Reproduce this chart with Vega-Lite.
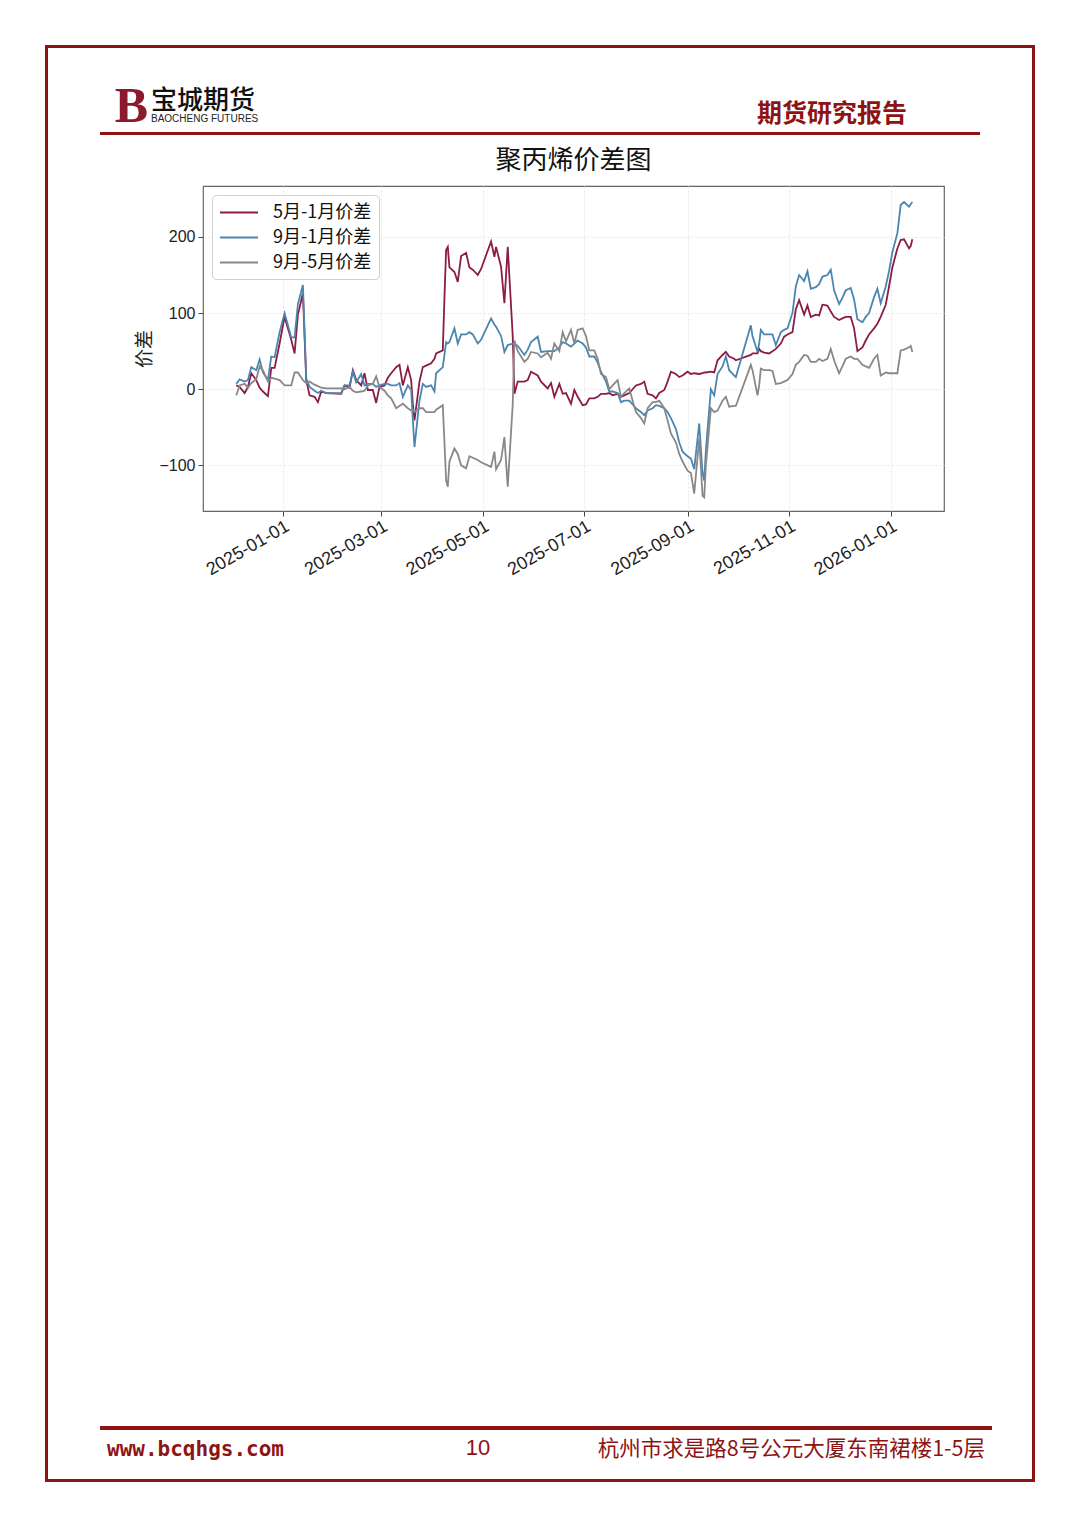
{
  "$schema": "https://vega.github.io/schema/vega-lite/v6.json",
  "background": "white",
  "padding": {"left": 45, "top": 45, "right": 45, "bottom": 45},
  "config": {
    "view": {"stroke": null},
    "font": "Noto Sans CJK SC",
    "title": {"fontWeight": "normal"}
  },
  "spacing": 0,
  "resolve": {"scale": {"color": "independent"}, "legend": {"color": "independent"}},
  "vconcat": [
    {"width": 990, "height": 3, "view": {"fill": "#8E1414", "stroke": null}, "data": {"values": []}, "mark": "point"},
    {
      "spacing": 0,
      "resolve": {"scale": {"color": "independent"}, "legend": {"color": "independent"}},
      "hconcat": [
        {"width": 3, "height": 1431, "view": {"fill": "#8E1414", "stroke": null}, "data": {"values": []}, "mark": "point"},
        {
          "spacing": 0,
          "resolve": {"scale": {"color": "independent"}, "legend": {"color": "independent"}},
          "vconcat": [
            {"width": 984, "height": 34, "data": {"values": []}, "mark": "point"},
            {
              "bounds": "flush",
              "spacing": 0,
              "hconcat": [
                {"width": 52, "height": 3, "data": {"values": []}, "mark": "point"},
                {"width": 50, "height": 3, "view": {"fill": "#8E1414", "stroke": null}, "data": {"values": []}, "mark": "point",
                 "title": {"text": "B", "anchor": "end", "dx": -2, "offset": 0, "font": "Liberation Serif", "fontSize": 50, "fontWeight": "bold", "color": "#8B1A2E"}},
                {"width": 390, "height": 3, "view": {"fill": "#8E1414", "stroke": null}, "data": {"values": []}, "mark": "point",
                 "title": {"text": "宝城期货", "subtitle": "BAOCHENG FUTURES", "anchor": "start", "dx": 1, "offset": 8, "font": "Noto Sans CJK SC", "fontSize": 26, "fontWeight": 500, "color": "#111", "subtitleFont": "Liberation Sans", "subtitleFontSize": 10, "subtitleColor": "#222", "subtitlePadding": 0}},
                {"width": 440, "height": 3, "view": {"fill": "#8E1414", "stroke": null}, "data": {"values": []}, "mark": "point",
                 "title": {"text": "期货研究报告", "anchor": "end", "dx": -73, "offset": 5, "font": "Noto Sans CJK SC", "fontSize": 25, "fontWeight": "bold", "color": "#8E1414"}},
                {"width": 52, "height": 3, "data": {"values": []}, "mark": "point"}
              ]
            },
            {"width": 984, "height": 12, "data": {"values": []}, "mark": "point"},
            {
              "bounds": "flush",
              "spacing": 0,
              "resolve": {"scale": {"color": "independent"}, "legend": {"color": "independent"}},
              "hconcat": [
                {"width": 155, "height": 325, "data": {"values": []}, "mark": "point"},
                {
                  "width": 741,
                  "height": 325,
                  "view": {"stroke": "#666", "strokeWidth": 1.2},
                  "title": {"text": "聚丙烯价差图", "fontSize": 26, "font": "Noto Sans CJK SC", "fontWeight": "normal", "color": "#111", "offset": 12, "anchor": "middle", "frame": "group"},
                  "data": {"values": [
                    {"d": "2024-12-04", "p51": 5, "p91": 7, "p95": -8},
                    {"d": "2024-12-06", "p51": 3, "p91": 13, "p95": 5},
                    {"d": "2024-12-09", "p51": -5, "p91": 10, "p95": 7},
                    {"d": "2024-12-11", "p51": 3, "p91": 12, "p95": 2},
                    {"d": "2024-12-13", "p51": 21, "p91": 29, "p95": 8},
                    {"d": "2024-12-16", "p51": 12, "p91": 25, "p95": 13},
                    {"d": "2024-12-18", "p51": 2, "p91": 39, "p95": 30},
                    {"d": "2024-12-20", "p51": -3, "p91": 22, "p95": 25},
                    {"d": "2024-12-23", "p51": -9, "p91": 12, "p95": 10},
                    {"d": "2024-12-25", "p51": 28, "p91": 43, "p95": 15},
                    {"d": "2024-12-27", "p51": 28, "p91": 42, "p95": 14},
                    {"d": "2024-12-30", "p51": 60, "p91": 75, "p95": 12},
                    {"d": "2025-01-02", "p51": 95, "p91": 100, "p95": 5},
                    {"d": "2025-01-06", "p51": 65, "p91": 68, "p95": 5},
                    {"d": "2025-01-08", "p51": 47, "p91": 68, "p95": 22},
                    {"d": "2025-01-10", "p51": 98, "p91": 112, "p95": 22},
                    {"d": "2025-01-13", "p51": 126, "p91": 137, "p95": 12},
                    {"d": "2025-01-15", "p51": 12, "p91": 14, "p95": 8},
                    {"d": "2025-01-17", "p51": -8, "p91": 3, "p95": 10},
                    {"d": "2025-01-20", "p51": -10, "p91": -2, "p95": 6},
                    {"d": "2025-01-22", "p51": -17, "p91": -5, "p95": 4},
                    {"d": "2025-01-24", "p51": -3, "p91": -2, "p95": 2},
                    {"d": "2025-01-27", "p51": -5, "p91": -5, "p95": 1},
                    {"d": "2025-02-05", "p51": -6, "p91": -5, "p95": 1},
                    {"d": "2025-02-07", "p51": 5, "p91": 5, "p95": 0},
                    {"d": "2025-02-10", "p51": 2, "p91": 5, "p95": 3},
                    {"d": "2025-02-12", "p51": 25, "p91": 23, "p95": -2},
                    {"d": "2025-02-14", "p51": 12, "p91": 9, "p95": -4},
                    {"d": "2025-02-17", "p51": 5, "p91": 20, "p95": -3},
                    {"d": "2025-02-19", "p51": 21, "p91": 5, "p95": -2},
                    {"d": "2025-02-21", "p51": -1, "p91": 7, "p95": 5},
                    {"d": "2025-02-24", "p51": -1, "p91": 7, "p95": 7},
                    {"d": "2025-02-26", "p51": -18, "p91": 3, "p95": 17},
                    {"d": "2025-02-28", "p51": 3, "p91": 5, "p95": 3},
                    {"d": "2025-03-03", "p51": 5, "p91": 7, "p95": -2},
                    {"d": "2025-03-05", "p51": 15, "p91": 7, "p95": -8},
                    {"d": "2025-03-07", "p51": 21, "p91": 5, "p95": -12},
                    {"d": "2025-03-10", "p51": 29, "p91": 5, "p95": -25},
                    {"d": "2025-03-12", "p51": 32, "p91": 8, "p95": -22},
                    {"d": "2025-03-14", "p51": 5, "p91": -10, "p95": -19},
                    {"d": "2025-03-17", "p51": 29, "p91": 5, "p95": -25},
                    {"d": "2025-03-19", "p51": 12, "p91": -1, "p95": -28},
                    {"d": "2025-03-20", "p51": -19, "p91": -40, "p95": -27},
                    {"d": "2025-03-21", "p51": -41, "p91": -76, "p95": -30},
                    {"d": "2025-03-24", "p51": 10, "p91": -15, "p95": -25},
                    {"d": "2025-03-26", "p51": 29, "p91": 7, "p95": -25},
                    {"d": "2025-03-28", "p51": 31, "p91": 3, "p95": -30},
                    {"d": "2025-03-31", "p51": 34, "p91": 5, "p95": -30},
                    {"d": "2025-04-02", "p51": 40, "p91": -3, "p95": -30},
                    {"d": "2025-04-03", "p51": 47, "p91": 21, "p95": -27},
                    {"d": "2025-04-07", "p51": 51, "p91": 29, "p95": -21},
                    {"d": "2025-04-08", "p51": 120, "p91": 45, "p95": -70},
                    {"d": "2025-04-09", "p51": 183, "p91": 62, "p95": -120},
                    {"d": "2025-04-10", "p51": 187, "p91": 60, "p95": -128},
                    {"d": "2025-04-11", "p51": 160, "p91": 62, "p95": -95},
                    {"d": "2025-04-14", "p51": 154, "p91": 80, "p95": -78},
                    {"d": "2025-04-16", "p51": 141, "p91": 60, "p95": -85},
                    {"d": "2025-04-18", "p51": 175, "p91": 72, "p95": -100},
                    {"d": "2025-04-21", "p51": 179, "p91": 72, "p95": -104},
                    {"d": "2025-04-23", "p51": 160, "p91": 75, "p95": -88},
                    {"d": "2025-04-25", "p51": 157, "p91": 72, "p95": -90},
                    {"d": "2025-04-28", "p51": 150, "p91": 60, "p95": -93},
                    {"d": "2025-04-30", "p51": 158, "p91": 65, "p95": -96},
                    {"d": "2025-05-06", "p51": 194, "p91": 93, "p95": -102},
                    {"d": "2025-05-08", "p51": 174, "p91": 85, "p95": -82},
                    {"d": "2025-05-09", "p51": 187, "p91": 82, "p95": -105},
                    {"d": "2025-05-12", "p51": 161, "p91": 70, "p95": -93},
                    {"d": "2025-05-14", "p51": 113, "p91": 49, "p95": -63},
                    {"d": "2025-05-16", "p51": 187, "p91": 58, "p95": -128},
                    {"d": "2025-05-19", "p51": 70, "p91": 60, "p95": -20},
                    {"d": "2025-05-20", "p51": -6, "p91": 60, "p95": 64},
                    {"d": "2025-05-22", "p51": 10, "p91": 57, "p95": 50},
                    {"d": "2025-05-26", "p51": 10, "p91": 45, "p95": 36},
                    {"d": "2025-05-28", "p51": 12, "p91": 52, "p95": 40},
                    {"d": "2025-05-30", "p51": 23, "p91": 62, "p95": 49},
                    {"d": "2025-06-03", "p51": 18, "p91": 69, "p95": 47},
                    {"d": "2025-06-05", "p51": 10, "p91": 49, "p95": 42},
                    {"d": "2025-06-09", "p51": 1, "p91": 50, "p95": 48},
                    {"d": "2025-06-11", "p51": 8, "p91": 50, "p95": 40},
                    {"d": "2025-06-13", "p51": -10, "p91": 50, "p95": 60},
                    {"d": "2025-06-16", "p51": 7, "p91": 55, "p95": 50},
                    {"d": "2025-06-18", "p51": -6, "p91": 62, "p95": 75},
                    {"d": "2025-06-20", "p51": -5, "p91": 60, "p95": 63},
                    {"d": "2025-06-23", "p51": -19, "p91": 56, "p95": 78},
                    {"d": "2025-06-25", "p51": -1, "p91": 60, "p95": 60},
                    {"d": "2025-06-27", "p51": -10, "p91": 64, "p95": 78},
                    {"d": "2025-06-30", "p51": -21, "p91": 60, "p95": 80},
                    {"d": "2025-07-02", "p51": -20, "p91": 55, "p95": 70},
                    {"d": "2025-07-04", "p51": -12, "p91": 43, "p95": 51},
                    {"d": "2025-07-07", "p51": -12, "p91": 43, "p95": 51},
                    {"d": "2025-07-09", "p51": -10, "p91": 35, "p95": 40},
                    {"d": "2025-07-11", "p51": -6, "p91": 23, "p95": 20},
                    {"d": "2025-07-14", "p51": -6, "p91": 10, "p95": 16},
                    {"d": "2025-07-16", "p51": -5, "p91": -3, "p95": 0},
                    {"d": "2025-07-18", "p51": -8, "p91": -3, "p95": 5},
                    {"d": "2025-07-21", "p51": -6, "p91": -5, "p95": 12},
                    {"d": "2025-07-23", "p51": -10, "p91": -17, "p95": -10},
                    {"d": "2025-07-25", "p51": -8, "p91": -15, "p95": -5},
                    {"d": "2025-07-28", "p51": -5, "p91": -15, "p95": 1},
                    {"d": "2025-07-30", "p51": 0, "p91": -20, "p95": -15},
                    {"d": "2025-08-01", "p51": 5, "p91": -25, "p95": -30},
                    {"d": "2025-08-04", "p51": 7, "p91": -30, "p95": -38},
                    {"d": "2025-08-06", "p51": 10, "p91": -34, "p95": -45},
                    {"d": "2025-08-08", "p51": -6, "p91": -28, "p95": -25},
                    {"d": "2025-08-11", "p51": -8, "p91": -25, "p95": -17},
                    {"d": "2025-08-13", "p51": -12, "p91": -21, "p95": -17},
                    {"d": "2025-08-15", "p51": -5, "p91": -22, "p95": -15},
                    {"d": "2025-08-18", "p51": -1, "p91": -25, "p95": -25},
                    {"d": "2025-08-20", "p51": 10, "p91": -30, "p95": -41},
                    {"d": "2025-08-22", "p51": 23, "p91": -38, "p95": -58},
                    {"d": "2025-08-25", "p51": 20, "p91": -52, "p95": -70},
                    {"d": "2025-08-27", "p51": 16, "p91": -70, "p95": -85},
                    {"d": "2025-08-29", "p51": 18, "p91": -82, "p95": -95},
                    {"d": "2025-09-01", "p51": 23, "p91": -88, "p95": -107},
                    {"d": "2025-09-03", "p51": 20, "p91": -91, "p95": -110},
                    {"d": "2025-09-05", "p51": 21, "p91": -105, "p95": -137},
                    {"d": "2025-09-08", "p51": 20, "p91": -45, "p95": -65},
                    {"d": "2025-09-10", "p51": 21, "p91": -110, "p95": -140},
                    {"d": "2025-09-11", "p51": 22, "p91": -120, "p95": -142},
                    {"d": "2025-09-12", "p51": 22, "p91": -80, "p95": -100},
                    {"d": "2025-09-15", "p51": 23, "p91": 0, "p95": -25},
                    {"d": "2025-09-17", "p51": 22, "p91": -8, "p95": -30},
                    {"d": "2025-09-19", "p51": 38, "p91": 20, "p95": -28},
                    {"d": "2025-09-22", "p51": 45, "p91": 30, "p95": -15},
                    {"d": "2025-09-24", "p51": 49, "p91": 43, "p95": -10},
                    {"d": "2025-09-26", "p51": 43, "p91": 25, "p95": -23},
                    {"d": "2025-09-29", "p51": 40, "p91": 18, "p95": -22},
                    {"d": "2025-09-30", "p51": 38, "p91": 16, "p95": -22},
                    {"d": "2025-10-09", "p51": 45, "p91": 84, "p95": 32},
                    {"d": "2025-10-10", "p51": 47, "p91": 70, "p95": 25},
                    {"d": "2025-10-13", "p51": 47, "p91": 49, "p95": -8},
                    {"d": "2025-10-14", "p51": 53, "p91": 60, "p95": 5},
                    {"d": "2025-10-15", "p51": 50, "p91": 78, "p95": 27},
                    {"d": "2025-10-17", "p51": 48, "p91": 72, "p95": 25},
                    {"d": "2025-10-20", "p51": 47, "p91": 72, "p95": 25},
                    {"d": "2025-10-22", "p51": 50, "p91": 72, "p95": 24},
                    {"d": "2025-10-24", "p51": 53, "p91": 58, "p95": 7},
                    {"d": "2025-10-27", "p51": 60, "p91": 75, "p95": 8},
                    {"d": "2025-10-29", "p51": 69, "p91": 78, "p95": 10},
                    {"d": "2025-10-31", "p51": 72, "p91": 80, "p95": 12},
                    {"d": "2025-11-03", "p51": 75, "p91": 100, "p95": 20},
                    {"d": "2025-11-05", "p51": 105, "p91": 135, "p95": 32},
                    {"d": "2025-11-07", "p51": 117, "p91": 150, "p95": 36},
                    {"d": "2025-11-10", "p51": 98, "p91": 142, "p95": 45},
                    {"d": "2025-11-12", "p51": 110, "p91": 155, "p95": 44},
                    {"d": "2025-11-14", "p51": 95, "p91": 132, "p95": 36},
                    {"d": "2025-11-17", "p51": 98, "p91": 134, "p95": 36},
                    {"d": "2025-11-19", "p51": 97, "p91": 138, "p95": 40},
                    {"d": "2025-11-21", "p51": 111, "p91": 148, "p95": 37},
                    {"d": "2025-11-24", "p51": 110, "p91": 150, "p95": 40},
                    {"d": "2025-11-26", "p51": 102, "p91": 157, "p95": 53},
                    {"d": "2025-11-28", "p51": 95, "p91": 130, "p95": 38},
                    {"d": "2025-12-01", "p51": 91, "p91": 112, "p95": 21},
                    {"d": "2025-12-03", "p51": 93, "p91": 120, "p95": 30},
                    {"d": "2025-12-05", "p51": 95, "p91": 130, "p95": 40},
                    {"d": "2025-12-08", "p51": 95, "p91": 133, "p95": 43},
                    {"d": "2025-12-10", "p51": 80, "p91": 118, "p95": 40},
                    {"d": "2025-12-12", "p51": 50, "p91": 92, "p95": 40},
                    {"d": "2025-12-15", "p51": 55, "p91": 88, "p95": 32},
                    {"d": "2025-12-17", "p51": 64, "p91": 95, "p95": 30},
                    {"d": "2025-12-19", "p51": 72, "p91": 100, "p95": 28},
                    {"d": "2025-12-22", "p51": 80, "p91": 121, "p95": 40},
                    {"d": "2025-12-24", "p51": 86, "p91": 132, "p95": 45},
                    {"d": "2025-12-26", "p51": 95, "p91": 113, "p95": 18},
                    {"d": "2025-12-29", "p51": 111, "p91": 135, "p95": 22},
                    {"d": "2025-12-31", "p51": 135, "p91": 155, "p95": 21},
                    {"d": "2026-01-02", "p51": 160, "p91": 180, "p95": 21},
                    {"d": "2026-01-05", "p51": 185, "p91": 205, "p95": 21},
                    {"d": "2026-01-07", "p51": 196, "p91": 242, "p95": 51},
                    {"d": "2026-01-09", "p51": 197, "p91": 246, "p95": 52},
                    {"d": "2026-01-12", "p51": 185, "p91": 240, "p95": 55},
                    {"d": "2026-01-13", "p51": 188, "p91": 243, "p95": 57},
                    {"d": "2026-01-14", "p51": 197, "p91": 246, "p95": 49}
                  ]},
                  "transform": [{"fold": ["p51", "p91", "p95"], "as": ["series", "value"]}],
                  "mark": {"type": "line", "strokeWidth": 1.8, "clip": true},
                  "encoding": {
                    "x": {
                      "field": "d", "type": "temporal",
                      "scale": {"type": "utc", "domain": [{"year": 2024, "month": 11, "date": 14, "utc": true}, {"year": 2026, "month": 2, "date": 2, "utc": true}]},
                      "axis": {
                        "values": [
                          {"year": 2025, "month": 1, "date": 1, "utc": true},
                          {"year": 2025, "month": 3, "date": 1, "utc": true},
                          {"year": 2025, "month": 5, "date": 1, "utc": true},
                          {"year": 2025, "month": 7, "date": 1, "utc": true},
                          {"year": 2025, "month": 9, "date": 1, "utc": true},
                          {"year": 2025, "month": 11, "date": 1, "utc": true},
                          {"year": 2026, "month": 1, "date": 1, "utc": true}
                        ],
                        "format": "%Y-%m-%d",
                        "title": null,
                        "labelAngle": -30,
                        "labelAlign": "right",
                        "labelBaseline": "top",
                        "labelFont": "Liberation Sans",
                        "labelFontSize": 18,
                        "labelColor": "#222",
                        "labelPadding": 1,
                        "labelOverlap": false,
                        "tickColor": "#444",
                        "tickSize": 5,
                        "domain": false,
                        "grid": true,
                        "gridColor": "#e6e6e6",
                        "gridDash": [2, 2]
                      }
                    },
                    "y": {
                      "field": "value", "type": "quantitative",
                      "scale": {"domain": [-160, 267], "nice": false, "zero": false},
                      "axis": {
                        "values": [-100, 0, 100, 200],
                        "title": "价差",
                        "titleFont": "Noto Sans CJK SC",
                        "titleFontSize": 19,
                        "titleFontWeight": "normal",
                        "titleColor": "#222",
                        "titlePadding": 4,
                        "labelFont": "Liberation Sans",
                        "labelFontSize": 16,
                        "labelColor": "#222",
                        "labelPadding": 3,
                        "tickColor": "#444",
                        "tickSize": 5,
                        "domain": false,
                        "grid": true,
                        "gridColor": "#e6e6e6",
                        "gridDash": [2, 2]
                      }
                    },
                    "color": {
                      "field": "series", "type": "nominal",
                      "scale": {"domain": ["p51", "p91", "p95"], "range": ["#8C1C46", "#4A86B0", "#888888"]},
                      "legend": {
                        "orient": "top-left",
                        "offset": 9,
                        "title": null,
                        "labelExpr": "datum.label == 'p51' ? '5月-1月价差' : datum.label == 'p91' ? '9月-1月价差' : '9月-5月价差'",
                        "symbolType": "M-1,0H3",
                        "symbolSize": 361,
                        "symbolStrokeWidth": 2,
                        "labelFont": "Noto Sans CJK SC",
                        "labelFontSize": 18,
                        "labelColor": "#111",
                        "labelOffset": 33,
                        "rowPadding": 5,
                        "padding": 7,
                        "fillColor": "white",
                        "strokeColor": "#d0d0d0",
                        "cornerRadius": 4
                      }
                    }
                  }
                },
                {"width": 88, "height": 325, "data": {"values": []}, "mark": "point"}
              ]
            },
            {"width": 984, "height": 846, "data": {"values": []}, "mark": "point"},
            {
              "bounds": "flush",
              "spacing": 0,
              "hconcat": [
                {"width": 52, "height": 4, "data": {"values": []}, "mark": "point"},
                {"width": 280, "height": 4, "view": {"fill": "#8E1414", "stroke": null}, "data": {"values": []}, "mark": "point",
                 "title": {"text": "www.bcqhgs.com", "orient": "bottom", "anchor": "start", "dx": 7, "offset": 9, "font": "DejaVu Sans Mono", "fontSize": 21, "fontWeight": "bold", "color": "#8E1414"}},
                {"width": 196, "height": 4, "view": {"fill": "#8E1414", "stroke": null}, "data": {"values": []}, "mark": "point",
                 "title": {"text": "10", "orient": "bottom", "anchor": "middle", "offset": 8, "font": "Liberation Sans", "fontSize": 22, "color": "#8E1414"}},
                {"width": 416, "height": 4, "view": {"fill": "#8E1414", "stroke": null}, "data": {"values": []}, "mark": "point",
                 "title": {"text": "杭州市求是路8号公元大厦东南裙楼1-5层", "orient": "bottom", "anchor": "end", "dx": -7, "offset": 9, "font": "Noto Sans CJK SC", "fontSize": 21.5, "color": "#8E1414"}},
                {"width": 40, "height": 4, "data": {"values": []}, "mark": "point"}
              ]
            },
            {"width": 984, "height": 10, "data": {"values": []}, "mark": "point"}
          ]
        },
        {"width": 3, "height": 1431, "view": {"fill": "#8E1414", "stroke": null}, "data": {"values": []}, "mark": "point"}
      ]
    },
    {"width": 990, "height": 3, "view": {"fill": "#8E1414", "stroke": null}, "data": {"values": []}, "mark": "point"}
  ]
}
